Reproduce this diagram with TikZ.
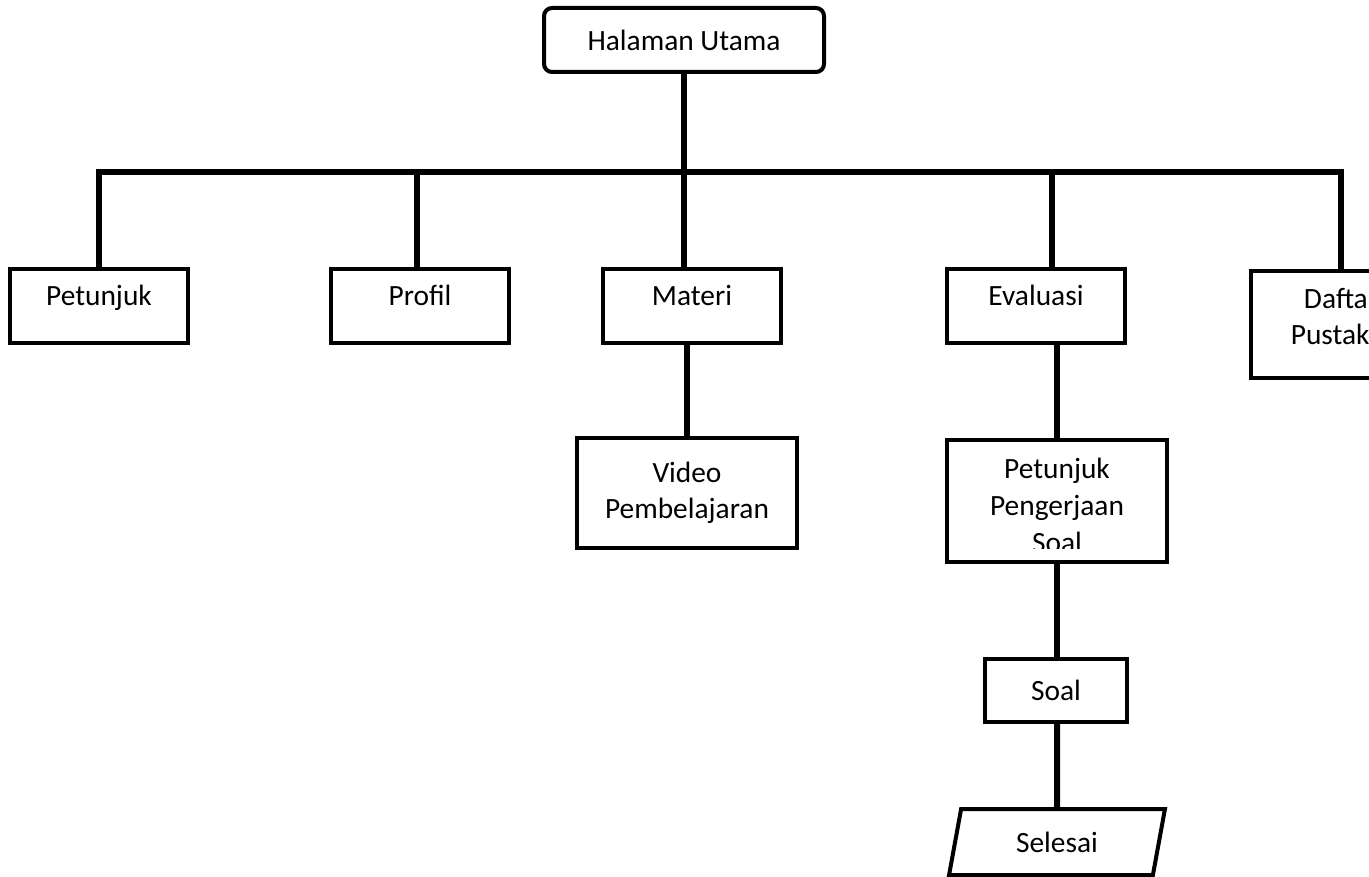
\documentclass[tikz,border=0pt]{standalone}
\usepackage{fontspec}
\setmainfont{Carlito}
\usepackage{tikz}
\usetikzlibrary{positioning,shapes.geometric,calc}

\begin{document}
\begin{tikzpicture}[x = .5pt, y = -.5pt,
  every node/.style = {font=\fontsize{14.7}{18}\selectfont},
  box/.style = {draw, line width=2pt, align=center, inner sep=0pt},
  menubox/.style = {box, minimum width=89pt, minimum height=37pt, text height=7pt, text depth=7pt},
  link/.style = {line width=3pt}]
\clip (0,0) rectangle (1369,877);

\node[box, rounded corners=4pt, minimum width=140pt, minimum height=32pt] (home) at (684, 40) {Halaman Utama};
\node[menubox] (pet) at (99, 305.5) {Petunjuk};
\node[menubox] (pro) at (420, 305.5) {Profil};
\node[menubox] (mat) at (692, 305.5) {Materi};
\node[menubox] (eva) at (1036, 305.5) {Evaluasi};
\node[box, minimum width=90pt, minimum height=53.5pt, text depth=8pt] (daf) at (1341, 324.5) {Daftar\\Pustaka\hspace*{4pt}};
\node[box, minimum width=110pt, minimum height=55pt] (vid) at (687, 493) {Video\\Pembelajaran};

\node[box, minimum width=110pt, minimum height=61pt] (pps) at (1057, 501) {};
\begin{scope}
  \clip ($(pps.north west)+(4,4)$) rectangle ($(pps.south east)+(-4,-16)$);
  \node[align=center, font=\fontsize{14.7}{18.5}\selectfont] (ppstext) at (1057, 505) {Petunjuk\\Pengerjaan\\Soal};
\end{scope}

\node[box, minimum width=71pt, minimum height=31.5pt] (soal) at (1056, 690.5) {Soal};
\node[box, trapezium, trapezium left angle=76, trapezium right angle=104, trapezium stretches,
  minimum width=108pt, minimum height=33pt] (sel) at (1057, 842) {Selesai};

% garis penghubung
\coordinate (bus) at (0, 172);
\coordinate (dpro) at (417, 172);
\coordinate (deva) at (1052, 172);

\draw[link] (home.south) -- (home.south |- mat.north);
\draw[link] (pet.north) |- (bus -| daf.north) -- (daf.north);
\draw[link] (dpro) -- (dpro |- pro.north);
\draw[link] (deva) -- (deva |- eva.north);
\draw[link] (vid.north |- mat.south) -- (vid.north);
\draw[link] (pps.north |- eva.south) -- (pps.north);
\draw[link] (pps.south) -- (pps.south |- soal.north);
\draw[link] (pps.south |- soal.south) -- (sel.north);

\end{tikzpicture}
\end{document}
